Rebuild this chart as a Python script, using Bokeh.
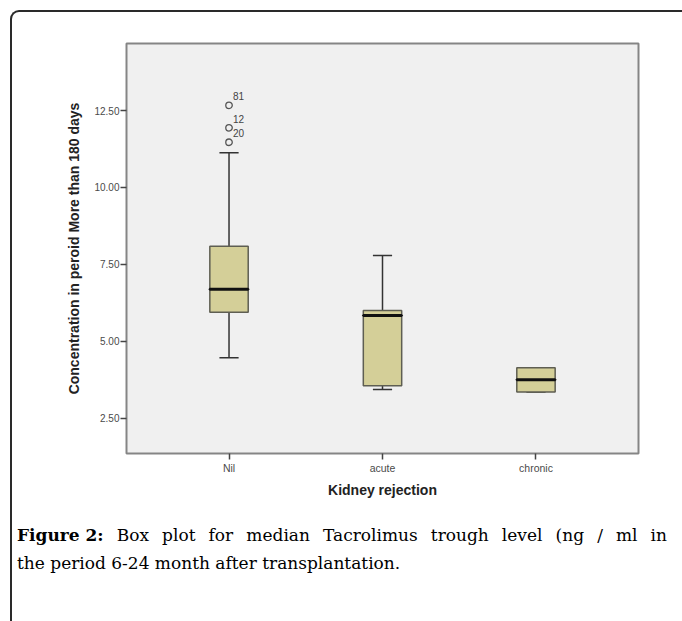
from bokeh.plotting import figure
from bokeh.layouts import column
from bokeh.models import (ColumnDataSource, Range1d, FixedTicker, Div,
                          PrintfTickFormatter)
from bokeh.embed import file_html
from bokeh.resources import INLINE
from bokeh.core.properties import value

# ---------------- data ----------------
categories = ["Nil", "acute", "chronic"]
q1 = [5.94, 3.55, 3.35]
medians = [6.69, 5.84, 3.75]
q3 = [8.09, 6.00, 4.14]
whisker_low = [4.46, 3.43, 3.35]
whisker_high = [11.13, 7.79, 4.14]
outlier_category = ["Nil", "Nil", "Nil"]
outlier_values = [12.67, 11.94, 11.47]
outlier_ids = ["81", "12", "20"]
y_ticks = [2.5, 5.0, 7.5, 10.0, 12.5]

x_label = "Kidney rejection"
y_label = "Concentration in peroid More than 180 days"
caption_bold = "Figure 2:"
caption_line1 = "Box plot for median Tacrolimus trough level (ng / ml in"
caption_line2 = "the period 6-24 month after transplantation."

# ---------------- derived ----------------
xpos = [i + 1 for i in range(len(categories))]
box_w = 0.25
cap_w = 0.125

src = ColumnDataSource(dict(
    x=xpos, q1=q1, med=medians, q3=q3, lo=whisker_low, hi=whisker_high,
    cap_l=[x - cap_w / 2 for x in xpos], cap_r=[x + cap_w / 2 for x in xpos],
))
out_x = [xpos[categories.index(c)] for c in outlier_category]
out_src = ColumnDataSource(dict(x=out_x, y=outlier_values, t=outlier_ids))

p = figure(width=682, height=505, output_backend="svg", toolbar_location=None,
           x_range=Range1d(0.332, 3.668), y_range=Range1d(1.35, 14.68),
           min_border_left=126, min_border_right=44, min_border_top=43,
           min_border_bottom=52,
           background_fill_color="#f0f0f0", border_fill_color="white",
           outline_line_color="#858585", outline_line_width=2)

p.grid.grid_line_color = None
p.axis.axis_line_color = None
p.axis.minor_tick_line_color = None
p.axis.major_tick_in = 0
p.axis.major_tick_out = 6
p.axis.major_tick_line_color = "#444444"
p.axis.major_tick_line_width = 1.5
p.axis.major_label_text_font = "Liberation Sans"
p.axis.major_label_text_font_size = "10px"
p.axis.major_label_text_color = "#4a4a4a"
p.axis.axis_label_text_font = "Liberation Sans"
p.axis.axis_label_text_font_size = "14px"
p.axis.axis_label_text_font_style = "bold"
p.axis.axis_label_text_color = "#222222"

p.xaxis.ticker = FixedTicker(ticks=xpos)
p.xaxis.major_label_overrides = {x: c for x, c in zip(xpos, categories)}
p.xaxis.major_label_standoff = 2
p.xaxis.major_label_text_font_size = "10.5px"
p.xaxis.axis_label = x_label
p.xaxis.axis_label_standoff = 5

p.yaxis.ticker = FixedTicker(ticks=y_ticks)
p.yaxis.formatter = PrintfTickFormatter(format="%.2f")
p.yaxis.major_label_standoff = 1
p.yaxis.axis_label = y_label
p.yaxis.axis_label_standoff = 9

# whiskers
p.segment(x0="x", y0="lo", x1="x", y1="q1", source=src, line_color="#333333", line_width=1.5)
p.segment(x0="x", y0="q3", x1="x", y1="hi", source=src, line_color="#333333", line_width=1.5)
p.segment(x0="cap_l", y0="lo", x1="cap_r", y1="lo", source=src, line_color="#333333", line_width=1.5)
p.segment(x0="cap_l", y0="hi", x1="cap_r", y1="hi", source=src, line_color="#333333", line_width=1.5)
# boxes
p.vbar(x="x", bottom="q1", top="q3", width=box_w, source=src,
       fill_color="#d4cf98", line_color="#5e5e52", line_width=1.5)
# medians
p.rect(x="x", y="med", width=box_w, height=0.0001, source=src,
       fill_color=None, line_color="#111111", line_width=3)

# outliers
p.scatter(x="x", y="y", source=out_src, marker="circle", size=6.5,
          fill_color=None, line_color="#555555", line_width=1.3)
p.text(x="x", y="y", text="t", source=out_src, x_offset=4, y_offset=-9,
       text_font=value("Liberation Sans"), text_font_size="10px",
       text_baseline="middle", text_align="left", text_color="#444444")

# caption below the chart
caption_html = (
    '<div style="padding:16px 0 0 17px; font-family:\'DejaVu Serif\', serif; '
    'font-size:17px; line-height:28px; color:#000000;">'
    '<div style="width:650px; text-align:justify; text-align-last:justify;">'
    f'<b style="display:inline-block;">{caption_bold}</b> {caption_line1}</div>'
    f'<div>{caption_line2}</div>'
    '</div>'
)
cap_div = Div(text=caption_html, width=682, height=116, margin=0)

frame_css = """
:host::after {
  content: "";
  position: absolute;
  left: 10px; top: 10px; right: 0; bottom: 0;
  border-left: 2px solid #2a2a2a;
  border-top: 2px solid #2a2a2a;
  border-top-left-radius: 9px;
  pointer-events: none;
  z-index: 10;
}
"""
layout = column(p, cap_div, spacing=0, stylesheets=[frame_css])

open("out.html", "w").write(file_html(layout, INLINE))
